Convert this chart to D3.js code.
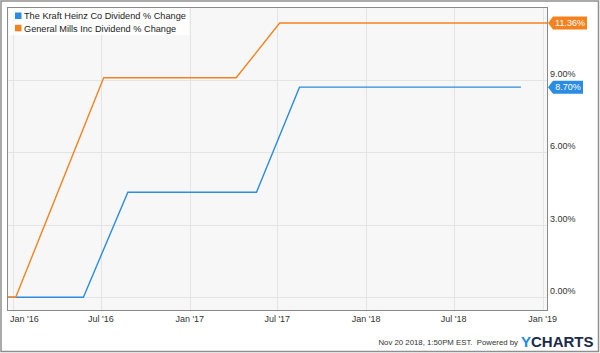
<!DOCTYPE html>
<html>
<head>
<meta charset="utf-8">
<script src="https://cdn.jsdelivr.net/npm/d3@7"></script>
<style>
  html, body { margin: 0; padding: 0; background: #fff; }
  svg { display: block; font-family: "Liberation Sans", Arial, Helvetica, sans-serif; }
</style>
</head>
<body>
<svg id="chart" width="600" height="353"></svg>
<script>
// ---- Data ----
const seriesNames = ["The Kraft Heinz Co Dividend % Change", "General Mills Inc Dividend % Change"];
const seriesColors = ["#2a8ce2", "#f5821f"];
const kraftDates = ["2015-12-21", "2016-05-26", "2016-08-26", "2017-05-19", "2017-08-16", "2018-11-17"];
const kraftValues = [0, 0, 4.35, 4.35, 8.70, 8.70];
const millsDates = ["2015-12-21", "2016-01-07", "2016-07-07", "2017-04-07", "2017-07-06", "2019-01-11"];
const millsValues = [0, 0, 9.09, 9.09, 11.36, 11.36];
const lastLabels = ["8.70%", "11.36%"];
const xTickDates = ["2016-01-01", "2016-07-01", "2017-01-01", "2017-07-01", "2018-01-01", "2018-07-01", "2019-01-01"];
const xTickLabels = ["Jan '16", "Jul '16", "Jan '17", "Jul '17", "Jan '18", "Jul '18", "Jan '19"];
const yTicks = [0, 3, 6, 9];
const yTickLabels = ["0.00%", "3.00%", "6.00%", "9.00%"];
const footerText = "Nov 20 2018, 1:50PM EST.  Powered by";

// ---- Layout ----
const svg = d3.select("#chart");
const W = 600, H = 353;
const plot = { left: 7.5, right: 547.5, top: 7.5, bottom: 310.5 };
const parse = d3.utcParse("%Y-%m-%d");

const x = d3.scaleUtc()
  .domain([parse("2015-12-21"), parse("2019-01-11")])
  .range([plot.left, plot.right]);
const y = d3.scaleLinear()
  .domain([-0.55, 12.0])
  .range([plot.bottom, plot.top]);

// outer frame
svg.append("rect").attr("x", 1).attr("y", 1).attr("width", W - 2.5).attr("height", H - 2.5)
  .attr("fill", "#fff").attr("stroke", "#8f8f8f").attr("stroke-width", 1.5);

// plot background
svg.append("rect").attr("x", plot.left).attr("y", plot.top)
  .attr("width", plot.right - plot.left).attr("height", plot.bottom - plot.top)
  .attr("fill", "#f7f7f7");

// gridlines
const grid = svg.append("g");
grid.selectAll("line.h").data(yTicks).enter().append("line")
  .attr("x1", plot.left).attr("x2", plot.right)
  .attr("y1", d => Math.round(y(d)) + 0.5).attr("y2", d => Math.round(y(d)) + 0.5)
  .attr("stroke", "#e4e4e4").attr("stroke-width", 1);
grid.selectAll("line.v").data(xTickDates).enter().append("line")
  .attr("y1", plot.top).attr("y2", plot.bottom)
  .attr("x1", d => Math.round(x(parse(d))) + 0.5).attr("x2", d => Math.round(x(parse(d))) + 0.5)
  .attr("stroke", "#e4e4e4").attr("stroke-width", 1);

// plot border
svg.append("rect").attr("x", plot.left).attr("y", plot.top)
  .attr("width", plot.right - plot.left).attr("height", plot.bottom - plot.top)
  .attr("fill", "none").attr("stroke", "#8a8a8a").attr("stroke-width", 1);

// x tick labels
svg.append("g").selectAll("text").data(xTickDates).enter().append("text")
  .attr("x", (d, i) => i === 0 ? 10 : x(parse(d)))
  .attr("y", 321.5)
  .attr("text-anchor", (d, i) => i === 0 ? "start" : "middle")
  .attr("font-size", 9).attr("fill", "#333")
  .text((d, i) => xTickLabels[i]);

// y tick labels (right side)
svg.append("g").selectAll("text").data(yTicks).enter().append("text")
  .attr("x", 550).attr("y", d => y(d) - 3)
  .attr("font-size", 9).attr("fill", "#333")
  .text((d, i) => yTickLabels[i]);

// lines
const line = d3.line().x(d => x(d.date)).y(d => y(d.value));
const datasets = [
  kraftDates.map((d, i) => ({ date: parse(d), value: kraftValues[i] })),
  millsDates.map((d, i) => ({ date: parse(d), value: millsValues[i] }))
];
svg.append("defs").append("clipPath").attr("id", "clip").append("rect")
  .attr("x", plot.left).attr("y", plot.top)
  .attr("width", plot.right - plot.left).attr("height", plot.bottom - plot.top);
[0, 1].forEach(i => {
  svg.append("path").datum(datasets[i])
    .attr("d", line).attr("fill", "none")
    .attr("stroke", seriesColors[i]).attr("stroke-width", 1.4)
    .attr("clip-path", "url(#clip)");
});

// end-value tags
[0, 1].forEach(i => {
  const last = datasets[i][datasets[i].length - 1];
  const cy = y(last.value);
  const x0 = plot.right + 0.5;
  const w = i === 1 ? 34 : 30, h = 13;
  const g = svg.append("g");
  g.append("path")
    .attr("d", `M${x0},${cy} L${x0 + 5},${cy - h / 2} L${x0 + 5 + w},${cy - h / 2} L${x0 + 5 + w},${cy + h / 2} L${x0 + 5},${cy + h / 2} Z`)
    .attr("fill", seriesColors[i]);
  g.append("text").attr("x", x0 + 5 + w / 2).attr("y", cy + 3.3)
    .attr("text-anchor", "middle").attr("font-size", 9).attr("fill", "#fff")
    .text(lastLabels[i]);
});

// legend
const lg = svg.append("g");
lg.append("rect").attr("x", 9).attr("y", 8).attr("width", 180).attr("height", 27)
  .attr("fill", "#fff").attr("fill-opacity", 0.85);
seriesNames.forEach((name, i) => {
  lg.append("rect").attr("x", 15).attr("y", 12.5 + i * 12.3).attr("width", 6.5).attr("height", 6.5)
    .attr("fill", seriesColors[i]);
  lg.append("text").attr("x", 24).attr("y", 19.3 + i * 12.3)
    .attr("font-size", 9.2).attr("fill", "#222").text(name);
});

// footer
svg.append("text").attr("x", 518).attr("y", 345).attr("text-anchor", "end")
  .style("white-space", "pre")
  .attr("font-size", 7.8).attr("fill", "#333").text(footerText);
const logo = svg.append("text").attr("x", 521).attr("y", 347)
  .attr("font-size", 15).attr("font-weight", "bold");
logo.append("tspan").attr("fill", "#1a8ce8").text("Y");
logo.append("tspan").attr("fill", "#1b2a48").text("CHARTS");
</script>
</body>
</html>
